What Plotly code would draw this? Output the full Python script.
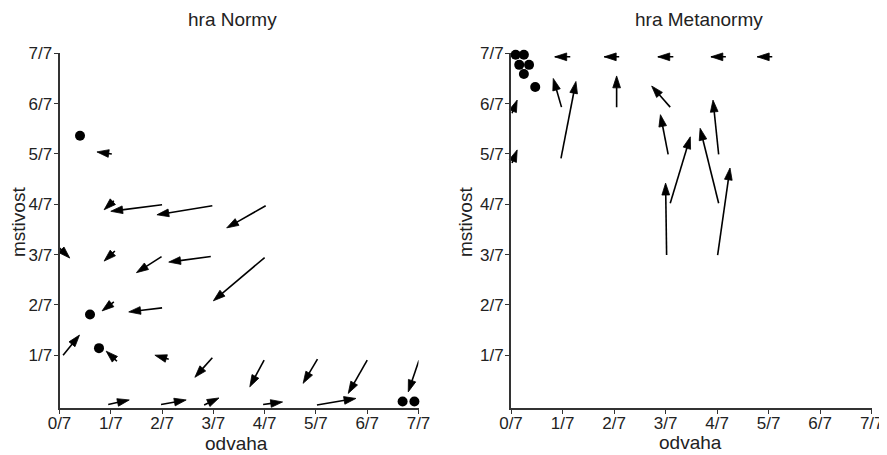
import plotly.graph_objects as go

# ---- tick labels (axis values are in sevenths) ----
tick_vals = [0, 1, 2, 3, 4, 5, 6, 7]
tick_text = ["0/7", "1/7", "2/7", "3/7", "4/7", "5/7", "6/7", "7/7"]
ytick_vals = [1, 2, 3, 4, 5, 6, 7]
ytick_text = ["1/7", "2/7", "3/7", "4/7", "5/7", "6/7", "7/7"]

# ---- hra Normy: arrows (tail -> head) ----
norm_x0 = [1.02, 1.06, 2.00, 2.98, 4.02, 0.00, 1.08, 1.99, 2.95, 4.00, 1.06, 2.00,
           0.07, 1.12, 2.13, 2.98, 3.99, 5.03, 6.00, 7.01, 0.95, 1.98, 2.82, 3.97, 5.02]
norm_y0 = [5.00, 4.07, 3.99, 3.97, 3.97, 3.13, 3.07, 2.96, 2.96, 2.94, 2.06, 1.94,
           1.00, 0.88, 0.92, 0.95, 0.90, 0.92, 0.90, 0.90, 0.02, 0.02, 0.01, 0.02, 0.01]
norm_x1 = [0.73, 0.87, 1.00, 1.90, 3.26, 0.20, 0.87, 1.50, 2.13, 3.00, 0.83, 1.35,
           0.39, 0.91, 1.86, 2.64, 3.71, 4.75, 5.63, 6.80, 1.36, 2.47, 3.11, 4.35, 5.78]
norm_y1 = [5.04, 3.89, 3.86, 3.79, 3.53, 2.93, 2.87, 2.64, 2.85, 2.08, 1.88, 1.86,
           1.40, 1.08, 1.00, 0.56, 0.37, 0.44, 0.24, 0.27, 0.11, 0.11, 0.15, 0.07, 0.14]
# ---- hra Normy: end states ----
norm_dot_x = [0.40, 0.595, 0.77, 6.69, 6.92]
norm_dot_y = [5.36, 1.81, 1.14, 0.08, 0.08]

# ---- hra Metanormy: arrows (tail -> head) ----
meta_x0 = [1.15, 2.10, 3.15, 4.17, 5.07, 0.98, 0.97, 2.05, 3.09, 3.05, 3.09, 3.02,
           4.03, 4.03, 4.01, 0.02, 0.02]
meta_y0 = [6.93, 6.93, 6.93, 6.93, 6.93, 5.93, 4.91, 5.93, 5.93, 4.99, 4.02, 2.99,
           4.02, 4.99, 2.99, 5.81, 4.82]
meta_x1 = [0.85, 1.81, 2.85, 3.88, 4.78, 0.82, 1.26, 2.05, 2.73, 2.90, 3.48, 3.00,
           3.67, 3.92, 4.25, 0.12, 0.12]
meta_y1 = [6.93, 6.93, 6.93, 6.93, 6.93, 6.50, 6.44, 6.55, 6.35, 5.78, 5.34, 4.42,
           5.51, 6.07, 4.72, 6.07, 5.08]
# ---- hra Metanormy: end states ----
meta_dot_x = [0.09, 0.25, 0.16, 0.35, 0.25, 0.47]
meta_dot_y = [6.97, 6.97, 6.77, 6.77, 6.59, 6.33]

FONT = "Liberation Sans, Arial, Helvetica, sans-serif"
INK = "#000000"
AXC = "#333333"
TXT = "#222222"

fig = go.Figure()


def add_arrows(x0, y0, x1, y1, xa, ya):
    for a, b, c, d in zip(x0, y0, x1, y1):
        fig.add_trace(go.Scatter(
            x=[a, c], y=[b, d], xaxis=xa, yaxis=ya,
            mode="lines+markers",
            line=dict(color=INK, width=1.6),
            marker=dict(symbol="arrow", size=[0, 12.5], angleref="previous", opacity=1,
                        color=INK, line=dict(width=0.8, color=INK)),
            cliponaxis=False, showlegend=False, hoverinfo="skip"))


def add_dots(x, y, xa, ya):
    fig.add_trace(go.Scatter(
        x=x, y=y, xaxis=xa, yaxis=ya, mode="markers",
        marker=dict(symbol="circle", size=10, color=INK, opacity=1, line=dict(width=0)),
        cliponaxis=False, showlegend=False, hoverinfo="skip"))


add_arrows(norm_x0, norm_y0, norm_x1, norm_y1, "x", "y")
add_dots(norm_dot_x, norm_dot_y, "x", "y")
add_arrows(meta_x0, meta_y0, meta_x1, meta_y1, "x2", "y2")
add_dots(meta_dot_x, meta_dot_y, "x2", "y2")

W, H = 887, 455
ML, MR, MT, MB = 4, 4, 4, 4
PW, PH = W - ML - MR, H - MT - MB
OFF = 8  # page offset of the figure


def fx(px):  # screen px -> paper x
    return (px - OFF - ML) / PW


def fy(py):  # screen px -> paper y
    return (H - MB - (py - OFF)) / PH


axis_common = dict(
    showline=True, linecolor=AXC, linewidth=2, ticks="outside", ticklen=4,
    tickwidth=1, tickcolor=AXC, showgrid=False, zeroline=False,
    tickfont=dict(family=FONT, size=17, color=TXT), fixedrange=True)

ydom = [fy(407.5), fy(53.3)]
fig.update_layout(
    width=W, height=H, margin=dict(l=ML, r=MR, t=MT, b=MB, autoexpand=False),
    paper_bgcolor="white", plot_bgcolor="white",
    xaxis=dict(domain=[fx(59.5), fx(418.5)], range=[0, 7], anchor="y",
               tickvals=tick_vals, ticktext=tick_text, ticklabelstandoff=-5, **axis_common),
    yaxis=dict(domain=ydom, range=[-0.04, 7], anchor="x",
               tickvals=ytick_vals, ticktext=ytick_text, ticklabelstandoff=-2, **axis_common),
    xaxis2=dict(domain=[fx(511), fx(871.7)], range=[0, 7], anchor="y2",
                tickvals=tick_vals, ticktext=tick_text, ticklabelstandoff=-5, **axis_common),
    yaxis2=dict(domain=ydom, range=[-0.04, 7], anchor="x2",
                tickvals=ytick_vals, ticktext=ytick_text, ticklabelstandoff=-2, **axis_common),
)

labels = [
    ("hra Normy", 232.5, 19, 0),
    ("hra Metanormy", 698.8, 19, 0),
    ("odvaha", 236.5, 443, 0),
    ("odvaha", 690.8, 442, 0),
    ("mstivost", 18, 222, -90),
    ("mstivost", 465, 222, -90),
]
for txt, px, py, rot in labels:
    fig.add_annotation(text=txt, x=fx(px), y=fy(py), xref="paper", yref="paper",
                       showarrow=False, xanchor="center", yanchor="middle", textangle=rot,
                       borderpad=0, font=dict(family=FONT, size=19, color=TXT))

fig.write_html("out.html")
